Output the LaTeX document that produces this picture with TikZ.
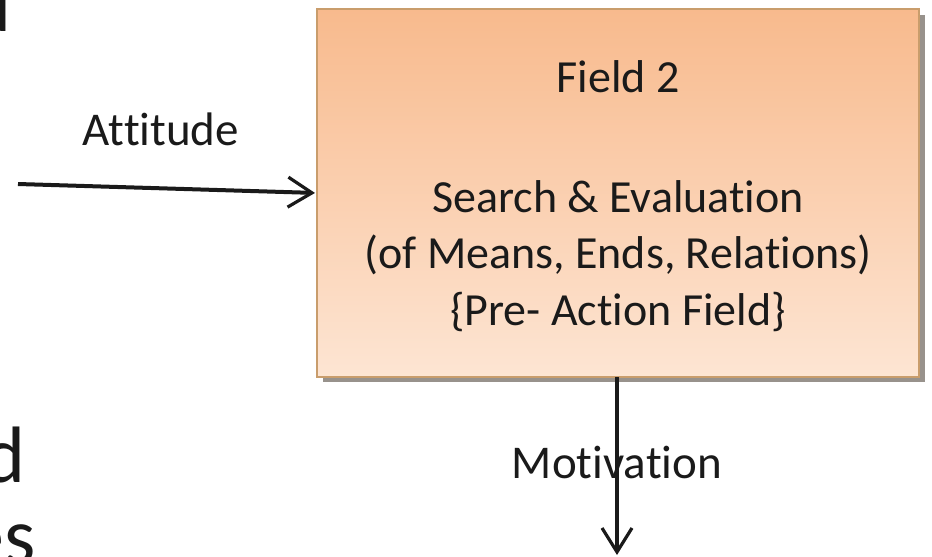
\documentclass[tikz,border=0pt]{standalone}
\usepackage{fontspec}
\setmainfont{Carlito}[Ligatures=NoCommon]
\usetikzlibrary{arrows.meta}
\definecolor{boxtop}{HTML}{F8BA8D}
\definecolor{boxbot}{HTML}{FDE5D3}
\definecolor{boxline}{HTML}{C99D6C}
\definecolor{shadowc}{HTML}{98928C}
\definecolor{inkc}{HTML}{1A1A1A}
\begin{document}
\begin{tikzpicture}[x=1pt,y=-1pt,
  lbl/.style={font=\fontsize{47}{56}\selectfont, inner sep=0pt, anchor=base, text=inkc},
  boxtext/.style={font=\fontsize{46}{56}\selectfont, inner sep=0pt, anchor=base, text=inkc},
  flow/.style={line width=4pt, draw=inkc, -{Straight Barb[length=24pt,width=30pt,line width=3.2pt]}},
  frag/.style={font=\fontsize{80}{76}\selectfont, inner sep=0pt, anchor=base east, text=inkc},
  fieldbox/.style={draw=boxline, line width=1.6pt, top color=boxtop, bottom color=boxbot,
    minimum width=602pt, minimum height=368pt, anchor=north west, outer sep=0pt, inner sep=0pt}]
\useasboundingbox (0,0) rectangle (932,557);
\clip (0,0) rectangle (932,557);
\fill[white] (0,0) rectangle (932,557);
% cut-off text fragments at the left edge
\node[frag] (fragA) at (12,31) {d};
\node[frag] (fragB) at (26,482) {d};
\node[frag] (fragC) at (36,563) {es};
% shadow and box
\fill[shadowc] (323,15) rectangle (925,382);
\node[fieldbox] (box) at (317,9) {};
\node[boxtext] (title) at (618,92) {Field 2};
\node[boxtext] (l1) at (618,212) {Search \& Evaluation};
\node[boxtext] (l2) at (618,268) {(of Means, Ends, Relations)};
\node[boxtext] (l3) at (618,325) {\{Pre- Action Field\}};
% labels
\node[lbl] (att) at (161,145) {Attitude};
\node[lbl] (mot) at (617,478) {Motivation};
% connectors
\coordinate (src) at (18,184);
\coordinate (dst) at (617,555);
\draw[flow, shorten >=2pt] (src) -- (box.west);
\draw[flow] (box.south -| dst) -- (dst);
\end{tikzpicture}
\end{document}
